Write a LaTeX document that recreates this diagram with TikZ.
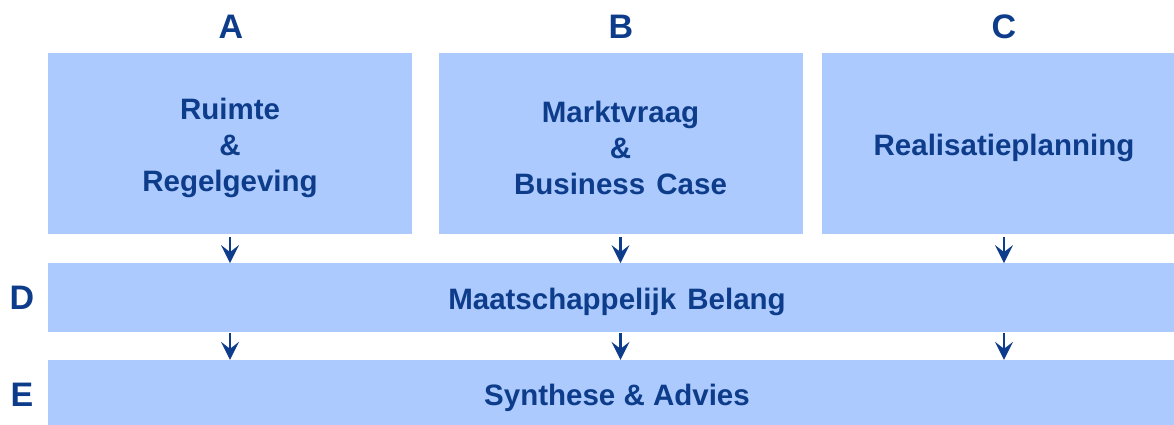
\documentclass[tikz,border=0pt]{standalone}
\usepackage{fontspec}
\setmainfont{Liberation Sans}
\definecolor{boxfill}{RGB}{172,202,253}
\definecolor{txt}{RGB}{13,60,138}
\begin{document}
\begin{tikzpicture}[x=1pt,y=-1pt,
  box/.style={fill=boxfill, draw=none, inner sep=0pt},
  boxtxt/.style={align=center, text=txt, inner sep=0pt, yshift=-4.5pt,
    font=\bfseries\fontsize{29.5}{36}\selectfont},
  lbl/.style={text=txt, inner sep=0pt, font=\bfseries\fontsize{34}{40}\selectfont},
  shaft/.style={draw=txt, line width=2.4pt, shorten >=8pt},
  head/.style={fill=txt, draw=none}]
\useasboundingbox (0,0) rectangle (1174,425);
\clip (0,0) rectangle (1174,425);
\node[box, minimum width=364pt, minimum height=181pt,
  label={[boxtxt]center:{Ruimte\\\&\\Regelgeving}}] (A) at (230,143.5) {};
\node[box, minimum width=364pt, minimum height=181pt,
  label={[boxtxt]center:{Marktvraag\\\&\\Business\hspace{3pt} Case}}] (B) at (620.5,143.5) {};
\node[box, minimum width=364pt, minimum height=181pt,
  label={[boxtxt]center:{Realisatieplanning}}] (C) at (1004,143.5) {};
\node[box, minimum width=1138pt, minimum height=68.5pt,
  label={[boxtxt]center:{Maatschappelijk\hspace{3pt} Belang}}] (D) at (617,297.5) {};
\node[box, minimum width=1138pt, minimum height=66pt,
  label={[boxtxt]center:{Synthese \& Advies}}] (E) at (617,393) {};
\node[lbl] (la) at (231,27) {A};
\node[lbl] (lb) at (621,27) {B};
\node[lbl] (lc) at (1004,27) {C};
\node[lbl] (ld) at (22,298) {D};
\node[lbl] (le) at (22,395) {E};
\foreach \n in {A,B,C}{
  \draw[shaft, shorten <=3pt] (\n.south) -- (D.north -| \n.south);
  \fill[head] (D.north -| \n.south) -- ++(-9,-18) -- ++(9,7) -- ++(9,-7) -- cycle;
  \draw[shaft, shorten <=1.5pt] (D.south -| \n.south) -- (E.north -| \n.south);
  \fill[head] (E.north -| \n.south) -- ++(-9,-18) -- ++(9,7) -- ++(9,-7) -- cycle;
}
\end{tikzpicture}
\end{document}
